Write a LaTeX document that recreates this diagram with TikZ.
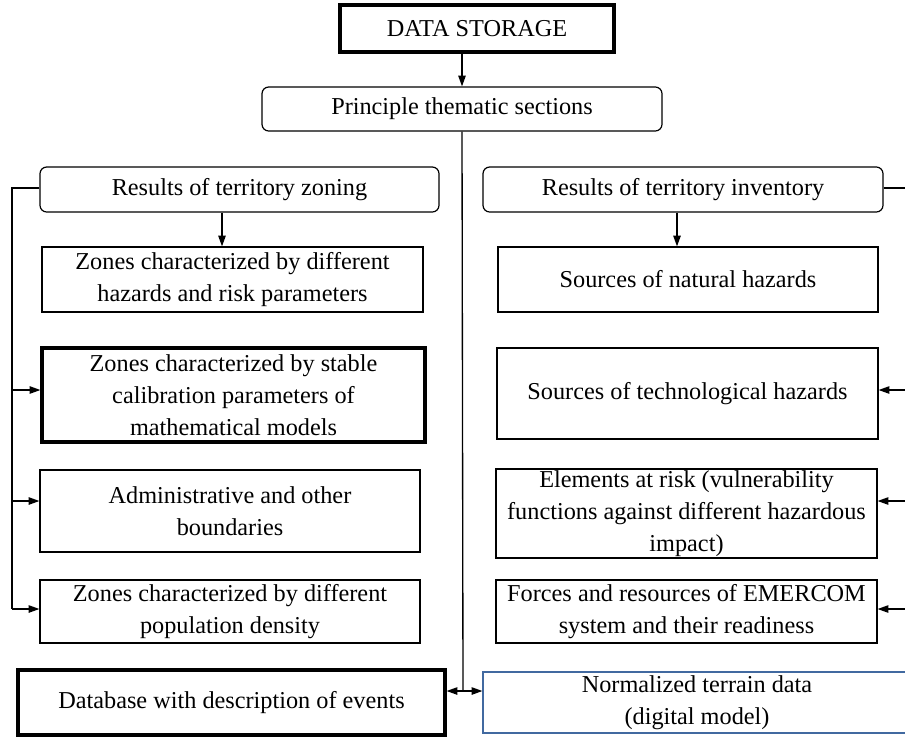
\documentclass[tikz,border=0pt]{standalone}
\usepackage{fontspec}
\setmainfont{Liberation Serif}
\usetikzlibrary{arrows.meta}
\definecolor{ntblue}{RGB}{65,105,160}
\tikzset{
  sz/.style 2 args={minimum width=#1*0.75pt, minimum height=#2*0.75pt},
  box/.style={draw, line width=0.9pt, inner sep=0pt, align=center,
    font=\fontsize{18.2}{24}\selectfont},
  thickbox/.style={box, line width=2.4pt},
  rbox/.style={box, rounded corners=5pt},
  conn/.style={line width=1pt},
  arr/.style={conn, -{Triangle[length=8pt,width=5.5pt]}},
}
\begin{document}
\begin{tikzpicture}[x=0.75pt,y=-0.75pt]
\clip (0,0) rectangle (905,736);
\fill[white] (0,0) rectangle (905,736);
% top
\node[thickbox, sz={274}{47}] (ds) at (477,28.5) {DATA STORAGE};
\node[rbox, sz={400}{44}] (pts) at (462,109) {Principle thematic sections};
% left column
\node[rbox, sz={399}{45}] (rz) at (239.5,189.5) {Results of territory zoning};
\node[box, sz={381}{65}] (z1) at (232.5,279.5) {Zones characterized by different\\hazards and risk parameters};
\node[thickbox, sz={383}{94}] (z2) at (233.5,395) {Zones characterized by stable\\calibration parameters of\\mathematical models};
\node[box, sz={380}{82}] (z3) at (230,511) {Administrative and other\\boundaries};
\node[box, sz={380}{63}] (z4) at (230,611.5) {Zones characterized by different\\population density};
\node[thickbox, sz={427}{65}] (db) at (231.5,702.5) {Database with description of events};
% right column
\node[rbox, sz={400}{45}] (ri) at (683,189.5) {Results of territory inventory};
\node[box, sz={380}{65}] (n1) at (688,279.5) {Sources of natural hazards};
\node[box, sz={381}{91}] (n2) at (687.5,393.5) {Sources of technological hazards};
\node[box, sz={381}{89}] (n3) at (686.5,513.5) {Elements at risk (vulnerability\\functions against different hazardous\\impact)};
\node[box, sz={381}{63}] (n4) at (686.5,611.5) {Forces and resources of EMERCOM\\system and their readiness};
\node[box, draw=ntblue, sz={428}{61}] (nt) at (697,702.5) {Normalized terrain data\\(digital model)};
% helper coordinates
\coordinate (ax) at (222,0);
\coordinate (bx) at (677,0);
\coordinate (j) at (463,691);
\coordinate (lt) at (12,188);
\coordinate (l2) at (12,390);
\coordinate (l3) at (12,501);
\coordinate (l4) at (12,609);
\coordinate (rt) at (907,188);
\coordinate (r2) at (907,390);
\coordinate (r3) at (907,501);
\coordinate (r4) at (907,609);
% connectors
\draw[arr] (ds.south -| pts.north) -- (pts.north);
\draw[conn] (pts.south) -- (j);
\draw[arr] (j) -- (j -| db.east);
\draw[arr] (j) -- (j -| nt.west);
\draw[arr] (rz.south -| ax) -- (z1.north -| ax);
\draw[arr] (ri.south -| bx) -- (n1.north -| bx);
\draw[conn] (rz.west |- lt) -- (lt) -- (l4);
\draw[arr] (l2) -- (l2 -| z2.west);
\draw[arr] (l3) -- (l3 -| z3.west);
\draw[arr] (l4) -- (l4 -| z4.west);
\draw[conn] (ri.east |- rt) -- (rt) -- (r4);
\draw[arr] (r2) -- (r2 -| n2.east);
\draw[arr] (r3) -- (r3 -| n3.east);
\draw[arr] (r4) -- (r4 -| n4.east);
\end{tikzpicture}
\end{document}
